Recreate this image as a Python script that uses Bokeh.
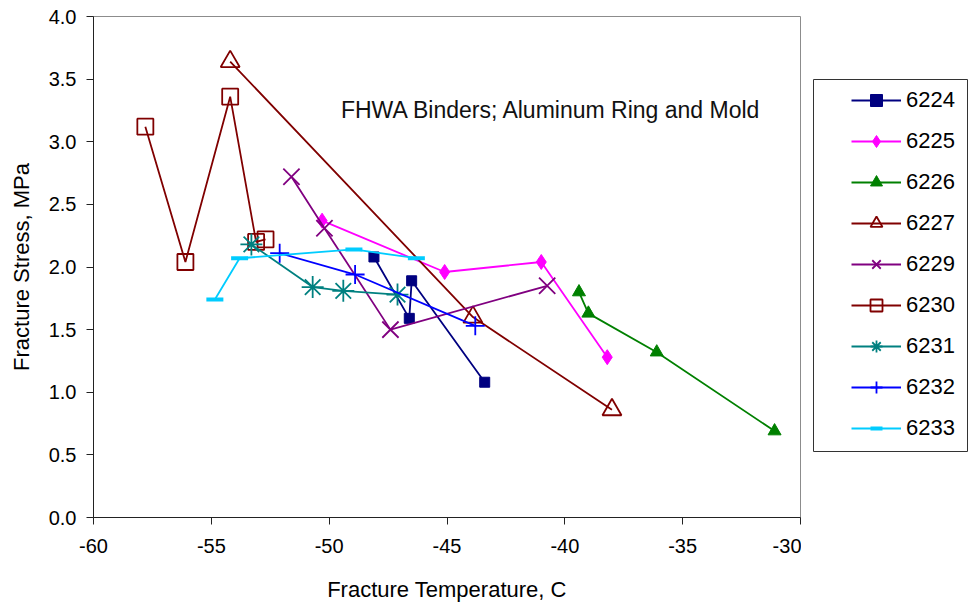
from bokeh.plotting import figure
from bokeh.layouts import row
from bokeh.models import (Legend, LegendItem, Label, BoxAnnotation, FixedTicker,
                          NumeralTickFormatter, Range1d, ColumnDataSource)
from bokeh.embed import file_html
from bokeh.resources import INLINE

# ---- data ----
labels = ["6224", "6225", "6226", "6227", "6229", "6230", "6231", "6232", "6233"]

t_6224 = [-48.1, -46.6, -46.5, -43.4]
s_6224 = [2.08, 1.59, 1.89, 1.08]

t_6225 = [-50.3, -45.1, -41.0, -38.2]
s_6225 = [2.37, 1.96, 2.04, 1.28]

t_6226 = [-39.4, -39.0, -36.1, -31.1]
s_6226 = [1.80, 1.63, 1.32, 0.69]

t_6227 = [-54.2, -43.9, -38.0]
s_6227 = [3.64, 1.60, 0.86]

t_6229 = [-51.6, -50.2, -47.4, -40.75]
s_6229 = [2.72, 2.31, 1.50, 1.85]

t_6230 = [-57.8, -56.1, -54.2, -53.1, -52.7]
s_6230 = [3.12, 2.04, 3.36, 2.20, 2.22]

t_6231 = [-53.3, -50.7, -49.4, -47.1]
s_6231 = [2.18, 1.84, 1.81, 1.78]

t_6232 = [-52.1, -48.9, -43.8]
s_6232 = [2.11, 1.94, 1.53]

t_6233 = [-54.85, -53.8, -48.95, -46.3]
s_6233 = [1.74, 2.07, 2.14, 2.07]

x_ticks = [-60, -55, -50, -45, -40, -35, -30]
y_ticks = [0.0, 0.5, 1.0, 1.5, 2.0, 2.5, 3.0, 3.5, 4.0]

title_text = "FHWA Binders; Aluminum Ring and Mold"
x_title = "Fracture Temperature, C"
y_title = "Fracture Stress, MPa"

FONT = "Liberation Sans"

p = figure(width=801, height=604, output_backend="svg", toolbar_location=None,
           x_range=Range1d(-60, -30), y_range=Range1d(0, 4),
           min_border_left=93, min_border_right=1, min_border_top=16, min_border_bottom=87)
p.grid.visible = False
p.background_fill_color = "white"
p.border_fill_color = "white"
p.outline_line_color = "#8c8c8c"
p.outline_line_width = 1

for ax in (p.xaxis[0], p.yaxis[0]):
    ax.axis_line_color = "#222222"
    ax.major_tick_line_color = "#222222"
    ax.minor_tick_line_color = None
    ax.major_tick_in = 0
    ax.major_tick_out = 7
    ax.major_label_text_font = FONT
    ax.major_label_text_font_size = "20px"
    ax.major_label_text_color = "black"
    ax.axis_label_text_font = FONT
    ax.axis_label_text_font_size = "22px"
    ax.axis_label_text_font_style = "normal"
    ax.axis_label_text_color = "black"

p.xaxis.ticker = FixedTicker(ticks=x_ticks)
p.yaxis.ticker = FixedTicker(ticks=y_ticks)
p.xaxis.formatter = NumeralTickFormatter(format="0")
p.yaxis.formatter = NumeralTickFormatter(format="0.0")
p.xaxis.axis_label = x_title
p.yaxis.axis_label = y_title
p.xaxis.major_label_standoff = 14
p.yaxis.major_label_standoff = 10
p.xaxis.axis_label_standoff = 21
p.yaxis.axis_label_standoff = 12

# legend figure (separate panel to the right of the chart)
q = figure(width=172, height=604, output_backend="svg", toolbar_location=None,
           x_range=Range1d(0, 1), y_range=Range1d(0, 1),
           min_border=0, x_axis_type=None, y_axis_type=None)
q.grid.visible = False
q.outline_line_color = None
q.background_fill_color = "white"
q.border_fill_color = "white"

LW = 1.8
items = []

def add(name, xs, ys, color, marker, size, fill=True, mlw=1.5, lw=LW):
    src = ColumnDataSource(dict(x=xs, y=ys))
    kw = dict(marker=marker, size=size, line_color=color, line_width=mlw,
              fill_color=(color if fill else None))
    p.line("x", "y", source=src, line_color=color, line_width=lw)
    p.scatter("x", "y", source=src, **kw)
    # same series in the legend panel (out of its view) so the legend can show its glyphs
    r1 = q.line("x", "y", source=src, line_color=color, line_width=lw)
    r2 = q.scatter("x", "y", source=src, **kw)
    items.append(LegendItem(label=name, renderers=[r1, r2]))

add(labels[0], t_6224, s_6224, "#000080", "square", 10, True, 1)
add(labels[1], t_6225, s_6225, "#FF00FF", "diamond", 15, True, 1)
add(labels[2], t_6226, s_6226, "#008000", "triangle", 13, True, 1)
add(labels[3], t_6227, s_6227, "#800000", "triangle", 19, False, 1.8)
add(labels[4], t_6229, s_6229, "#800080", "x", 23, False, 1.8)
add(labels[5], t_6230, s_6230, "#800000", "square", 16, False, 1.8)
add(labels[6], t_6231, s_6231, "#008080", "asterisk", 22, False, 1.8)
add(labels[7], t_6232, s_6232, "#0000FF", "cross", 19, False, 1.8)
add(labels[8], t_6233, s_6233, "#00CCFF", "dash", 17, False, 4)

legend = Legend(items=items, location=(40, 64), orientation="vertical",
                padding=10, spacing=11, glyph_width=50, glyph_height=30,
                label_height=30, label_standoff=5,
                label_text_font=FONT, label_text_font_size="22px",
                label_text_color="black",
                border_line_alpha=0, background_fill_alpha=0,
                margin=0)
q.add_layout(legend, "center")

box = BoxAnnotation(left=12, right=166, top=79, bottom=451,
                    left_units="canvas", right_units="canvas",
                    top_units="canvas", bottom_units="canvas",
                    fill_alpha=0, line_color="#333333", line_alpha=1.0, line_width=1)
q.add_layout(box)

p.add_layout(Label(x=-49.5, y=3.25, text=title_text, text_font=FONT,
                   text_font_size="23px", text_baseline="middle",
                   text_color="#111111"))

layout = row(p, q, spacing=0)
html = file_html(layout, INLINE)
with open("out.html", "w") as f:
    f.write(html)
